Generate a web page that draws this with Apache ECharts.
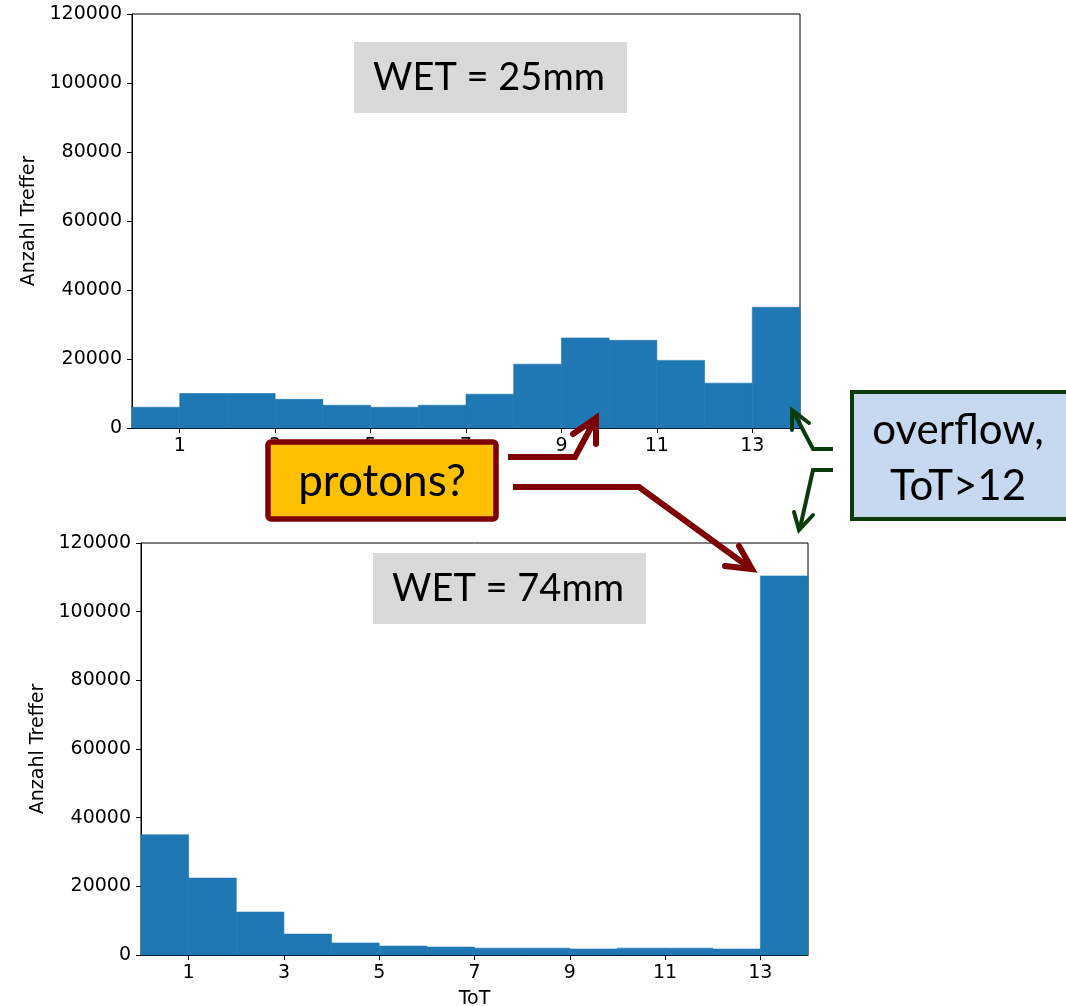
<!DOCTYPE html>
<html>
<head>
<meta charset="utf-8">
<script src="https://cdn.jsdelivr.net/npm/echarts@6/dist/echarts.min.js"></script>
<style>
html,body{margin:0;padding:0;background:#fff;}
#chart{width:1066px;height:1006px;}
</style>
</head>
<body>
<div id="chart"></div>
<script>
// ---- data ----
const binEdges = [0,1,2,3,4,5,6,7,8,9,10,11,12,13,14];
const wet25Counts = [6000,10000,10000,8300,6600,6000,6600,9800,18500,26100,25400,19600,13000,35000];
const wet74Counts = [35000,22400,12500,6100,3500,2600,2300,2000,2000,1750,2000,2000,1750,110400];
const xTickValues = [1,3,5,7,9,11,13];
const yAxisMax = 120000;
const yAxisStep = 20000;
const titleTop = 'WET = 25mm';
const titleBottom = 'WET = 74mm';
const xAxisName = 'ToT';
const yAxisName = 'Anzahl Treffer';
const noteProtons = 'protons?';
const noteOverflow = 'overflow,\nToT>12';

function histData(counts){
  return counts.map((v,i)=>[binEdges[i], binEdges[i+1], v]);
}
const BAR = '#1f77b4';
const FONT = 'DejaVu Sans';
const NOTE_FONT = 'Lato';

function renderBin(params, api){
  const p0 = api.coord([api.value(0), api.value(2)]);
  const p1 = api.coord([api.value(1), 0]);
  return {type:'rect', shape:{x:p0[0], y:p0[1], width:p1[0]-p0[0], height:p1[1]-p0[1]},
          style:{fill:BAR, stroke:BAR, lineWidth:0.6}};
}

function xAxisCfg(idx, showName){
  return {
    type:'value', gridIndex:idx, min:0, max:14,
    name: showName ? xAxisName : '', nameLocation:'middle', nameGap:35,
    nameTextStyle:{fontFamily:FONT, fontSize:19, color:'#000'},
    axisLine:{show:true, onZero:false, lineStyle:{color:'#000', width:1}},
    axisTick:{show:true, length:5, customValues:xTickValues, lineStyle:{color:'#000'}},
    axisLabel:{customValues:xTickValues, fontFamily:FONT, fontSize:19, color:'#000', margin:9,
               formatter:(v)=>String(v)},
    splitLine:{show:false}
  };
}
function yAxisCfg(idx){
  return {
    type:'value', gridIndex:idx, min:0, max:yAxisMax, interval:yAxisStep,
    name:yAxisName, nameLocation:'middle', nameGap:83, nameRotate:90,
    nameTextStyle:{fontFamily:FONT, fontSize:19, color:'#000'},
    axisLine:{show:true, lineStyle:{color:'#000', width:1}},
    axisTick:{show:true, length:5, lineStyle:{color:'#000'}},
    axisLabel:{fontFamily:FONT, fontSize:19, color:'#000', margin:10, formatter:(v)=>String(v)},
    splitLine:{show:false}
  };
}

const RED = '#7f0000';
const GREEN = '#0b3a0b';

const option = {
  backgroundColor:'#fff',
  animation:false,
  grid:[
    {left:132, right:266, top:14, height:414, outerBoundsMode:'none', containLabel:false, show:true, borderColor:'#000', borderWidth:1, backgroundColor:'transparent'},
    {left:141, right:258, top:543, height:412, outerBoundsMode:'none', containLabel:false, show:true, borderColor:'#000', borderWidth:1, backgroundColor:'transparent'}
  ],
  xAxis:[xAxisCfg(0,false), xAxisCfg(1,true)],
  yAxis:[yAxisCfg(0), yAxisCfg(1)],
  series:[
    {type:'custom', xAxisIndex:0, yAxisIndex:0, renderItem:renderBin, data:histData(wet25Counts), encode:{x:[0,1], y:2}},
    {type:'custom', xAxisIndex:1, yAxisIndex:1, renderItem:renderBin, data:histData(wet74Counts), encode:{x:[0,1], y:2}}
  ],
  graphic:[
    {type:'rect', z:100, shape:{x:354, y:42, width:273, height:71}, style:{fill:'#d9d9d9'}},
    {type:'text', z:101, x:489, y:78, style:{text:titleTop, font:'38px '+NOTE_FONT, fill:'#000', align:'center', verticalAlign:'middle'}},
    {type:'rect', z:100, shape:{x:373, y:553, width:273, height:71}, style:{fill:'#d9d9d9'}},
    {type:'text', z:101, x:508, y:589, style:{text:titleBottom, font:'38px '+NOTE_FONT, fill:'#000', align:'center', verticalAlign:'middle'}},
    // protons box
    {type:'rect', z:100, shape:{x:268, y:442, width:228, height:77, r:3}, style:{fill:'#ffc000', stroke:RED, lineWidth:5.5}},
    {type:'text', z:101, x:382, y:482, style:{text:noteProtons, font:'44px '+NOTE_FONT, fill:'#000', align:'center', verticalAlign:'middle'}},
    // overflow box
    {type:'rect', z:100, shape:{x:852, y:392, width:220, height:127}, style:{fill:'#c6d9f0', stroke:GREEN, lineWidth:4}},
    {type:'text', z:101, x:958, y:458, style:{text:noteOverflow, font:'42px '+NOTE_FONT, lineHeight:56, fill:'#000', align:'center', verticalAlign:'middle'}},
    // red arrows
    {type:'polyline', z:102, shape:{points:[[508,457],[575,457],[596,418]]}, style:{stroke:RED, lineWidth:6, fill:null, lineJoin:'miter'}},
    {type:'polyline', z:102, shape:{points:[[573,434],[596,418],[596,444]]}, style:{stroke:RED, lineWidth:6, fill:null, lineCap:'round'}},
    {type:'polyline', z:102, shape:{points:[[513,487],[639,487],[750,568]]}, style:{stroke:RED, lineWidth:6, fill:null}},
    {type:'polyline', z:102, shape:{points:[[739,546],[752,569],[725,566]]}, style:{stroke:RED, lineWidth:6, fill:null, lineCap:'round'}},
    // green arrows
    {type:'polyline', z:102, shape:{points:[[833,449],[813,449],[793,411]]}, style:{stroke:GREEN, lineWidth:4, fill:null}},
    {type:'polyline', z:102, shape:{points:[[792,430],[792,410],[809,423]]}, style:{stroke:GREEN, lineWidth:4, fill:null, lineCap:'round'}},
    {type:'polyline', z:102, shape:{points:[[833,470],[813,470],[800,528]]}, style:{stroke:GREEN, lineWidth:4, fill:null}},
    {type:'polyline', z:102, shape:{points:[[794,512],[799,530],[813,515]]}, style:{stroke:GREEN, lineWidth:4, fill:null, lineCap:'round'}}
  ]
};
const chart = echarts.init(document.getElementById('chart'), null, {renderer:'canvas'});
chart.setOption(option);
</script>
</body>
</html>
